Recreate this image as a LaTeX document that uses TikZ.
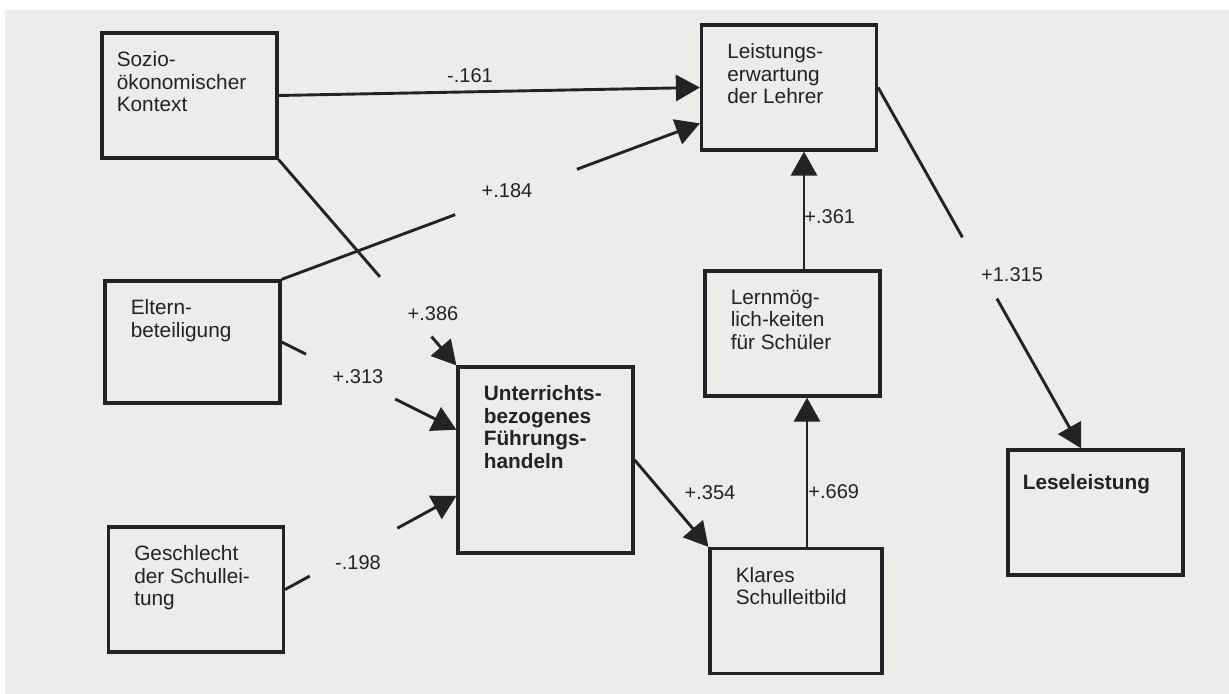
\documentclass[tikz,border=0pt]{standalone}
\usepackage{fontspec}
\setmainfont{Liberation Sans}
\usetikzlibrary{arrows.meta,calc}
\definecolor{paper}{RGB}{236,236,234}
\definecolor{ink}{RGB}{35,35,35}
\tikzset{
  box/.style={
    draw=ink,
    line width=1.6pt,
    minimum width=87.5pt,
    minimum height=62.5pt,
    inner sep=0pt
  },
  boxtext/.style={
    anchor=north west,
    inner sep=0pt,
    align=left,
    xshift=13.5pt,
    yshift=-10pt,
    text=ink,
    font=\fontsize{10.4}{11.25}\selectfont
  },
  boldtext/.style={
    boxtext,
    font=\fontsize{10.4}{11.25}\selectfont\bfseries
  },
  wt/.style={
    text=ink,
    inner sep=1pt,
    font=\fontsize{10}{12}\selectfont
  },
  conn/.style={
    draw=ink,
    line width=1.45pt
  },
  arr/.style={
    conn,
    -{Triangle[length=12pt,width=13pt]}
  }
}
\begin{document}
\begin{tikzpicture}[x=0.5pt,y=-0.5pt]
    \useasboundingbox (0,0) rectangle (1229,694);
    \fill[white] (0,0) rectangle (1229,694);
    \fill[paper] (5,10) rectangle (1229,694);

    \node[box, label={[boxtext, xshift=-5.5pt]north west:Sozio-\\ökonomischer\\Kontext}] (soz) at (189.5,95.5) {};
    \node[box, label={[boxtext]north west:Leistungs-\\erwartung\\der Lehrer}] (lei) at (789,87.5) {};
    \node[box, minimum height=61pt, label={[boxtext]north west:Eltern-\\beteiligung}] (elt) at (192.5,342) {};
    \node[box, minimum height=93pt, label={[boldtext]north west:Unterrichts-\\bezogenes\\Führungs-\\handeln}] (unt) at (545.5,460) {};
    \node[box, label={[boxtext]north west:Geschlecht\\der Schullei-\\tung}] (ges) at (196,589.5) {};
    \node[box, minimum width=86pt, label={[boxtext]north west:Klares\\Schulleitbild}] (kla) at (796,611) {};
    \node[box, label={[boxtext]north west:Lernmög-\\lich-keiten\\für Schüler}] (ler) at (792.5,333.5) {};
    \node[box, label={[boldtext, xshift=-5.5pt, yshift=-3pt]north west:Leseleistung}] (les) at (1095.5,512.5) {};

    % paths into the expectations box
    \draw[arr] (soz.east) -- (lei.west);
    \coordinate (lei184) at ($(lei.north west)!0.78!(lei.south west)$);
    \draw[conn] (elt.north east) -- ($(elt.north east)!0.415!(lei184)$);
    \draw[arr] ($(elt.north east)!0.706!(lei184)$) -- (lei184);

    % paths into the leadership box
    \draw[conn] (soz.south east) -- ($(soz.south east)!0.57!(unt.north west)$);
    \draw[arr] ($(soz.south east)!0.86!(unt.north west)$) -- (unt.north west);
    \coordinate (unt313) at ($(unt.north west)!0.34!(unt.south west)$);
    \draw[conn] (elt.east) -- ($(elt.east)!0.14!(unt313)$);
    \draw[arr] ($(elt.east)!0.65!(unt313)$) -- (unt313);
    \coordinate (unt198) at ($(unt.north west)!0.69!(unt.south west)$);
    \draw[conn] (ges.east) -- ($(ges.east)!0.144!(unt198)$);
    \draw[arr] ($(ges.east)!0.655!(unt198)$) -- (unt198);

    \draw[arr] (unt.east) -- (kla.north west);
    \draw[arr] ([xshift=5.5pt]kla.north) -- ([xshift=5.5pt]kla.north |- ler.south);
    \draw[arr] ([xshift=5.75pt]ler.north) -- ([xshift=5.75pt]ler.north |- lei.south);

    \coordinate (les315) at ($(les.north west)!0.42!(les.north east)$);
    \draw[conn] (lei.east) -- ($(lei.east)!0.415!(les315)$);
    \draw[arr] ($(lei.east)!0.585!(les315)$) -- (les315);

    % weights
    \node[wt] (w161) at (470,76) {-.161};
    \node[wt] (w184) at (507,191) {+.184};
    \node[wt] (w386) at (433,314) {+.386};
    \node[wt] (w313) at (358,377) {+.313};
    \node[wt] (w198) at (358,563) {-.198};
    \node[wt] (w354) at (710,493) {+.354};
    \node[wt, anchor=west] (w669) at (806,492) {+.669};
    \node[wt, anchor=west] (w361) at (802,217) {+.361};
    \node[wt] (w1315) at (1012,275) {+1.315};
\end{tikzpicture}
\end{document}
